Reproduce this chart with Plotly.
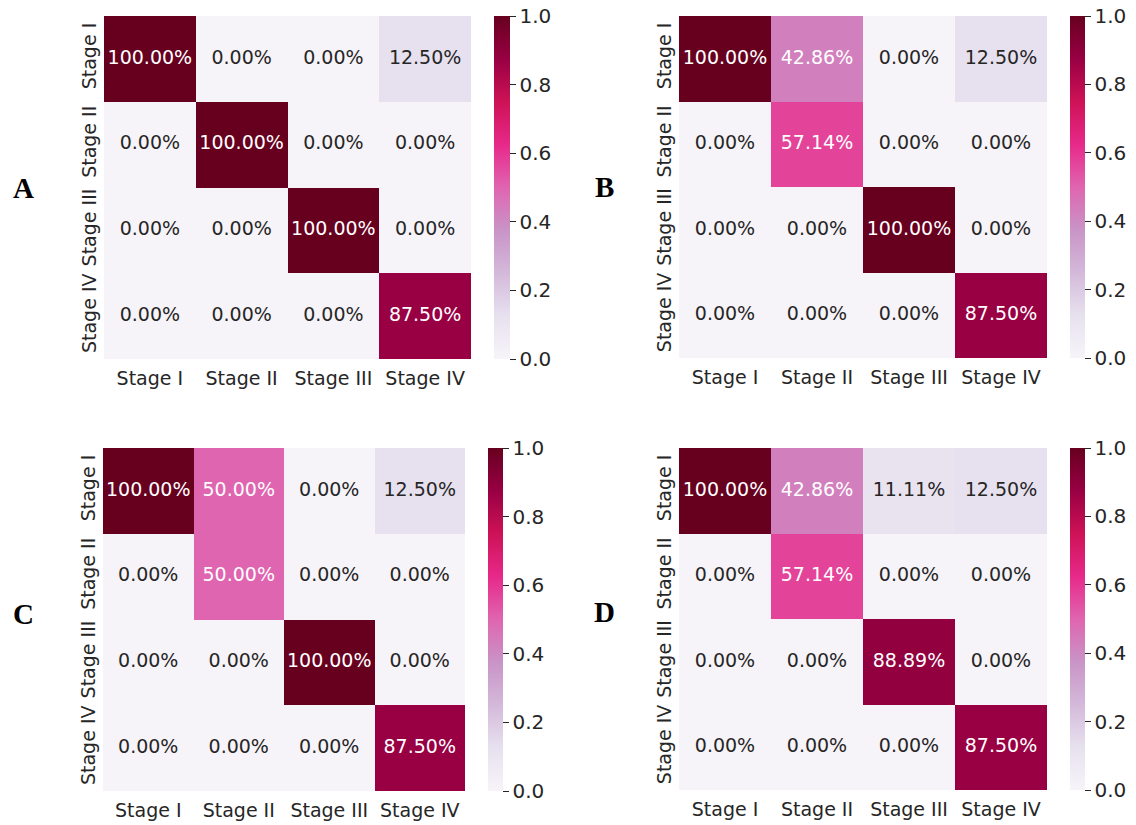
import plotly.graph_objects as go
from plotly.colors import sample_colorscale, unlabel_rgb

# Stage labels shared by every confusion matrix
stages = ["Stage I", "Stage II", "Stage III", "Stage IV"]

# Column-normalised confusion matrices (rows = predicted, columns = true stage)
matrix_a = [
    [1.0, 0.0, 0.0, 0.125],
    [0.0, 1.0, 0.0, 0.0],
    [0.0, 0.0, 1.0, 0.0],
    [0.0, 0.0, 0.0, 0.875],
]
matrix_b = [
    [1.0, 0.4286, 0.0, 0.125],
    [0.0, 0.5714, 0.0, 0.0],
    [0.0, 0.0, 1.0, 0.0],
    [0.0, 0.0, 0.0, 0.875],
]
matrix_c = [
    [1.0, 0.5, 0.0, 0.125],
    [0.0, 0.5, 0.0, 0.0],
    [0.0, 0.0, 1.0, 0.0],
    [0.0, 0.0, 0.0, 0.875],
]
matrix_d = [
    [1.0, 0.4286, 0.1111, 0.125],
    [0.0, 0.5714, 0.0, 0.0],
    [0.0, 0.0, 0.8889, 0.0],
    [0.0, 0.0, 0.0, 0.875],
]
panel_letters = ["A", "B", "C", "D"]
colorbar_ticks = [0.0, 0.2, 0.4, 0.6, 0.8, 1.0]

W, H = 1136, 825
FONT = "DejaVu Sans"
DARK = "#262626"

# Pixel boxes: (left, right, top, bottom) of heatmap, colorbar left/right, letter centre
panels = [
    dict(z=matrix_a, box=(104, 471, 16, 359), cb=(494, 510), letter=(23, 188)),
    dict(z=matrix_b, box=(679, 1047, 16, 358), cb=(1070, 1085), letter=(604, 187)),
    dict(z=matrix_c, box=(103, 465, 448, 791), cb=(488, 503), letter=(23, 614)),
    dict(z=matrix_d, box=(679, 1047, 448, 790), cb=(1070, 1085), letter=(604, 612)),
]


def luminance(rgb):
    vals = []
    for c in rgb:
        c = c / 255.0
        vals.append(c / 12.92 if c <= 0.03928 else ((c + 0.055) / 1.055) ** 2.4)
    return 0.2126 * vals[0] + 0.7152 * vals[1] + 0.0722 * vals[2]


fig = go.Figure()
layout = {}

for i, p in enumerate(panels):
    n = i + 1
    xa = "x" if n == 1 else f"x{n}"
    ya = "y" if n == 1 else f"y{n}"
    left, right, top, bottom = p["box"]
    cbl, cbr = p["cb"]

    fig.add_trace(go.Heatmap(
        z=p["z"], x=list(range(4)), y=list(range(4)),
        zmin=0, zmax=1, colorscale="PuRd",
        xaxis=xa, yaxis=ya, hoverinfo="skip",
        colorbar=dict(
            x=cbl / W, xanchor="left", xref="paper",
            y=1 - (top + bottom) / 2 / H, yanchor="middle",
            len=(bottom - top) / H, lenmode="fraction",
            thickness=cbr - cbl, thicknessmode="pixels",
            xpad=0, ypad=0, outlinewidth=0,
            ticks="outside", ticklen=6, tickwidth=1, tickcolor=DARK,
            tickvals=colorbar_ticks, ticktext=[f"{t:.1f}" for t in colorbar_ticks],
            tickfont=dict(family=FONT, size=20, color=DARK),
        ),
    ))

    # Cell annotations, white on dark cells and dark grey on light cells
    xs, ys, texts, colors = [], [], [], []
    for r, row in enumerate(p["z"]):
        for c, v in enumerate(row):
            rgb = unlabel_rgb(sample_colorscale("PuRd", [v])[0])
            xs.append(c)
            ys.append(r)
            texts.append(f"{v:.2%}")
            colors.append(DARK if luminance(rgb) > 0.408 else "#ffffff")
    fig.add_trace(go.Scatter(
        x=xs, y=ys, text=texts, mode="text", xaxis=xa, yaxis=ya,
        textfont=dict(family=FONT, size=19, color=colors),
        hoverinfo="skip", showlegend=False,
    ))

    axis_key = "xaxis" if n == 1 else f"xaxis{n}"
    yaxis_key = "yaxis" if n == 1 else f"yaxis{n}"
    layout[axis_key] = dict(
        domain=[left / W, right / W], anchor=ya,
        range=[-0.5, 3.5], tickvals=list(range(4)), ticktext=stages,
        showgrid=False, zeroline=False, showline=False, ticks="",
        ticklabelstandoff=6,
        tickfont=dict(family=FONT, size=19, color=DARK),
    )
    layout[yaxis_key] = dict(
        domain=[1 - bottom / H, 1 - top / H], anchor=xa,
        range=[3.5, -0.5], tickvals=list(range(4)), ticktext=stages,
        showgrid=False, zeroline=False, showline=False, ticks="",
        tickangle=-90, ticklabelstandoff=3,
        tickfont=dict(family=FONT, size=19, color=DARK),
    )

    lx, ly = p["letter"]
    fig.add_annotation(
        x=lx / W, y=1 - ly / H, xref="paper", yref="paper",
        text=f"<b>{panel_letters[i]}</b>", showarrow=False,
        xanchor="center", yanchor="middle",
        font=dict(family="Liberation Serif", size=29, color="black"),
    )

fig.update_layout(
    width=W, height=H,
    margin=dict(l=0, r=0, t=0, b=0),
    paper_bgcolor="white", plot_bgcolor="white",
    showlegend=False,
    **layout,
)

fig.write_html("out.html")
